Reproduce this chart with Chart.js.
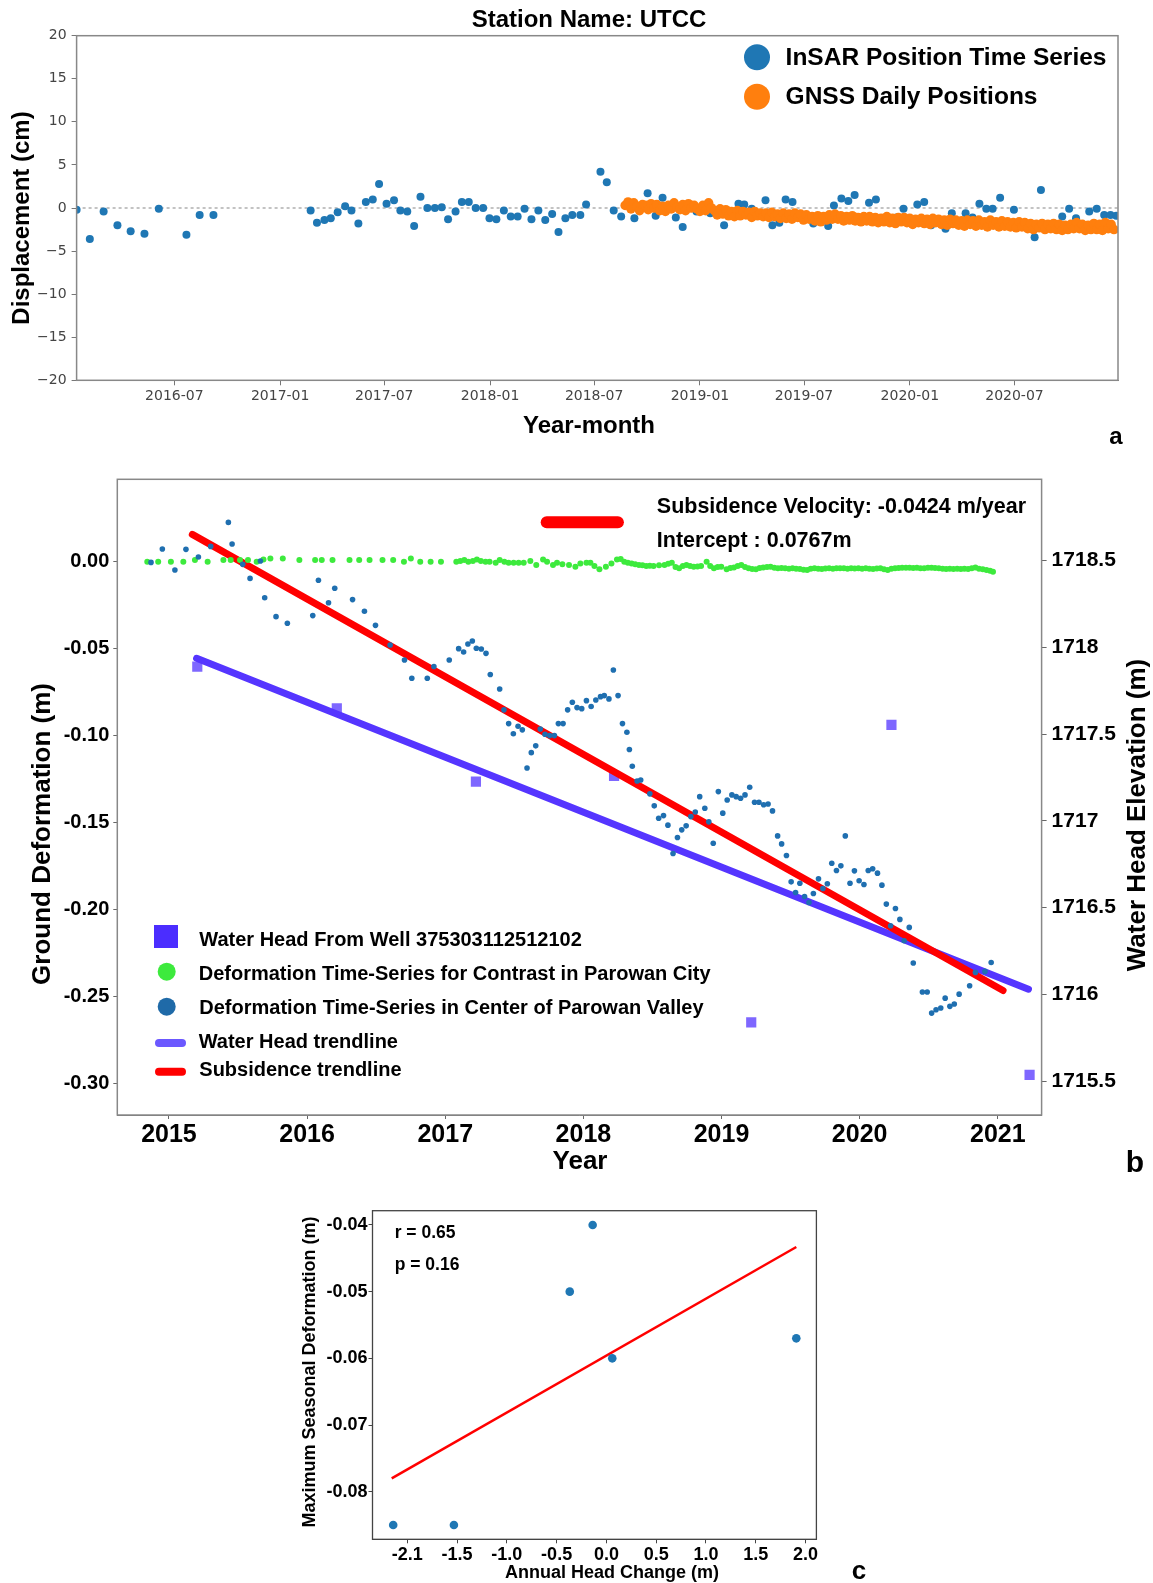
<!DOCTYPE html>
<html><head><meta charset="utf-8">
<script src="https://cdn.jsdelivr.net/npm/chart.js@4.4.1/dist/chart.umd.min.js"></script>
<style>
html,body{margin:0;padding:0;background:#fff;}
body{width:1153px;height:1583px;position:relative;overflow:hidden;}
.wrap{position:absolute;left:0;width:1153px;}
canvas{display:block;}
</style></head><body>
<div class="wrap" style="top:0;height:445px"><canvas id="ca"></canvas></div>
<div class="wrap" style="top:445px;height:735px"><canvas id="cb"></canvas></div>
<div class="wrap" style="top:1180px;height:403px"><canvas id="cc"></canvas></div>
<script>
// ---------------- Panel a data ----------------
const aXMin = '2016-01-13';
const aXMax = '2020-12-28';
const aTickDates = ['2016-07-01','2017-01-01','2017-07-01','2018-01-01','2018-07-01','2019-01-01','2019-07-01','2020-01-01','2020-07-01'];
const aYTicks = [-20,-15,-10,-5,0,5,10,15,20];
const insarDates = ['2016-01-13','2016-02-05','2016-02-29','2016-03-24','2016-04-16','2016-05-10','2016-06-04','2016-07-22','2016-08-14','2016-09-07',
 '2017-02-23','2017-03-06','2017-03-19','2017-03-30','2017-04-11','2017-04-24','2017-05-05','2017-05-17','2017-05-30','2017-06-11','2017-06-22',
 '2017-07-05','2017-07-18','2017-07-29','2017-08-10','2017-08-22','2017-09-02','2017-09-14','2017-09-27','2017-10-09','2017-10-20','2017-11-02',
 '2017-11-13','2017-11-25','2017-12-07','2017-12-20','2017-12-31','2018-01-12','2018-01-25','2018-02-06','2018-02-18','2018-03-02','2018-03-14',
 '2018-03-26','2018-04-07','2018-04-19','2018-04-30','2018-05-12','2018-05-24','2018-06-07','2018-06-17','2018-07-12','2018-07-23','2018-08-04',
 '2018-08-17','2018-09-09','2018-10-02','2018-10-28','2018-11-20','2018-12-02','2019-02-12','2019-03-09','2019-03-19','2019-04-25','2019-05-07',
 '2019-05-19','2019-05-30','2019-06-11','2019-07-17','2019-08-12','2019-08-22','2019-09-04','2019-09-16','2019-09-27','2019-10-22','2019-11-03',
 '2019-12-21','2020-01-14','2020-01-26','2020-02-07','2020-03-03','2020-03-14','2020-04-07','2020-05-01','2020-05-13','2020-05-24','2020-06-06',
 '2020-06-30','2020-08-05','2020-08-16','2020-09-22','2020-10-04','2020-10-16','2020-11-08','2020-11-21','2020-12-04','2020-12-15','2020-12-25',
 '2018-10-16','2018-12-26','2019-01-19','2019-04-01','2019-06-23','2019-12-09','2020-02-19','2020-04-19','2020-07-12','2020-09-03'];
const insarCm = [-0.2,-3.6,-0.4,-2.0,-2.7,-3.0,-0.1,-3.1,-0.8,-0.8,
 -0.3,-1.7,-1.4,-1.2,-0.5,0.2,-0.3,-1.8,0.7,1.0,2.8,
 0.5,0.9,-0.3,-0.4,-2.1,1.3,0.0,0.0,0.1,-1.3,-0.4,
 0.7,0.7,0.0,0.0,-1.2,-1.3,-0.3,-1.0,-1.0,-0.1,-1.3,
 -0.3,-1.4,-0.7,-2.8,-1.2,-0.8,-0.8,0.4,4.2,3.0,-0.3,
 -1.0,-1.2,1.7,1.2,-1.1,-2.2,-2.0,0.5,0.4,0.9,-2.0,
 -1.7,1.0,0.7,-1.8,-2.1,0.3,1.1,0.8,1.5,0.6,1.0,
 -0.1,0.4,0.7,-2.0,-2.4,-0.6,-0.6,0.5,-0.1,-0.1,1.2,
 -0.2,-3.4,2.1,-1.0,-0.1,-1.2,-0.4,-0.1,-0.8,-0.8,-0.9,
 -0.9,-0.4,-0.6,-0.1,-1.1,-1.1,-1.4,-1.1,-1.7,-1.9];
const gnssStart = '2018-08-24';
const gnssStepDays = 5;
const gnssCm = [0.3,0.7,-0.1,0.6,0.2,-0.3,0.4,
 0.3,-0.2,0.5,0.0,0.4,-0.3,
 0.2,-0.4,0.3,-0.1,0.6,0.1,
 -0.2,0.4,-0.3,0.5,0.0,0.3,
 -0.1,-0.4,0.3,-0.3,0.6,0.0,
 -0.3,-0.8,-0.1,-0.7,-0.2,-0.9,
 -0.4,-1.0,-0.3,-0.9,-0.4,-0.8,
 -0.5,-1.1,-0.4,-0.9,-0.6,-1.0,
 -0.6,-1.1,-0.5,-1.0,-0.7,-1.2,
 -0.6,-1.2,-0.7,-1.3,-0.6,-1.1,
 -0.7,-1.4,-0.8,-1.3,-1.0,-1.5,
 -0.9,-1.6,-1.0,-1.4,-0.8,-1.3,
 -0.7,-1.3,-0.9,-1.5,-1.0,-1.4,
 -0.9,-1.5,-1.1,-1.6,-1.0,-1.5,
 -1.0,-1.6,-1.1,-1.7,-1.2,-1.6,
 -1.0,-1.7,-1.2,-1.8,-1.1,-1.6,
 -1.1,-1.7,-1.2,-1.9,-1.3,-1.7,
 -1.2,-1.8,-1.3,-1.9,-1.2,-1.7,
 -1.3,-1.9,-1.4,-2.0,-1.3,-1.8,
 -1.4,-2.0,-1.5,-2.1,-1.4,-1.9,
 -1.5,-2.1,-1.4,-2.0,-1.6,-2.2,
 -1.4,-2.0,-1.6,-2.2,-1.5,-2.1,
 -1.6,-2.2,-1.7,-2.3,-1.6,-2.2,
 -1.7,-2.4,-1.8,-2.5,-1.9,-2.3,
 -1.8,-2.5,-1.9,-2.4,-1.8,-2.5,
 -1.9,-2.6,-2.0,-2.5,-1.9,-2.4,
 -1.7,-2.4,-1.9,-2.6,-2.0,-2.5,
 -1.8,-2.5,-1.9,-2.6,-1.7,-2.4,-1.9,-2.5];

// ---------------- Panel b data ----------------
const bXMin = 2014.626, bXMax = 2021.317;
const bYMin = -0.3182, bYMax = 0.0474;
const bY2Min = 1715.304, bY2Max = 1718.969;
const bXTicks = [2015,2016,2017,2018,2019,2020,2021];
const bYTicks = [-0.30,-0.25,-0.20,-0.15,-0.10,-0.05,0.00];
const bY2Ticks = [1715.5,1716,1716.5,1717,1717.5,1718,1718.5];
const centerYears = [2014.870,2014.952,2015.043,2015.123,2015.213,2015.302,2015.430,2015.457,2015.534,2015.587,2015.662,2015.693,2015.775,2015.857,
 2016.041,2016.082,2016.155,2016.200,2016.329,2016.415,2016.495,2016.601,2016.705,2016.758,2016.870,2016.918,
 2017.029,2017.097,2017.133,2017.164,2017.196,2017.225,2017.261,2017.295,2017.326,2017.394,2017.425,2017.459,2017.493,2017.527,2017.558,
 2017.592,2017.623,2017.655,2017.688,2017.722,2017.756,2017.790,2017.819,2017.853,2017.886,2017.920,2017.954,2017.988,
 2018.022,2018.056,2018.090,2018.124,2018.151,2018.185,2018.217,2018.251,2018.283,2018.315,2018.333,2018.354,2018.389,2018.415,2018.481,
 2018.513,2018.545,2018.580,2018.612,2018.649,2018.681,2018.712,2018.744,2018.778,2018.810,2018.842,2018.879,2018.908,2018.940,2018.977,
 2019.009,2019.041,2019.075,2019.106,2019.138,2019.170,2019.204,2019.239,2019.271,2019.305,2019.337,2019.369,2019.406,2019.435,2019.470,
 2019.504,2019.536,2019.567,2019.601,2019.633,2019.665,2019.702,2019.734,2019.766,2019.798,2019.832,2019.864,2019.896,2019.930,2019.962,
 2019.996,2020.031,2020.062,2020.094,2020.129,2020.161,2020.193,2020.224,2020.259,2020.291,2020.322,2020.359,2020.388,2020.454,2020.489,
 2020.521,2020.553,2020.587,2020.619,2020.653,2020.685,2020.720,2020.796,2020.838,2020.907,2020.952];
const centerDef = [-0.0004,0.0073,-0.0048,0.0071,0.0027,0.0088,0.0226,0.0102,-0.0015,-0.0096,0.0004,-0.0207,-0.0316,-0.0354,
 -0.0310,-0.0107,-0.0236,-0.0153,-0.0218,-0.0285,-0.0366,-0.0479,-0.0565,-0.0670,-0.0670,-0.0603,
 -0.0565,-0.0500,-0.0519,-0.0473,-0.0456,-0.0498,-0.0502,-0.0527,-0.0649,-0.0732,-0.0852,-0.0931,-0.0989,-0.0946,-0.0967,
 -0.1186,-0.1098,-0.1059,-0.0962,-0.0992,-0.1000,-0.1000,-0.0931,-0.0931,-0.0852,-0.0808,-0.0839,-0.0845,
 -0.0799,-0.0833,-0.0795,-0.0776,-0.0770,-0.0789,-0.0623,-0.0770,-0.0931,-0.0981,-0.1080,-0.1176,-0.1261,-0.1255,-0.1335,
 -0.1404,-0.1475,-0.1460,-0.1515,-0.1678,-0.1586,-0.1542,-0.1519,-0.1466,-0.1439,-0.1351,-0.1418,-0.1496,-0.1619,-0.1322,
 -0.1446,-0.1370,-0.1341,-0.1351,-0.1360,-0.1341,-0.1297,-0.1383,-0.1383,-0.1398,-0.1393,-0.1433,-0.1577,-0.1623,-0.1690,
 -0.1841,-0.1902,-0.1849,-0.1925,-0.1960,-0.1908,-0.1824,-0.1879,-0.1852,-0.1734,-0.1776,-0.1749,-0.1577,-0.1849,-0.1778,
 -0.1835,-0.1856,-0.1776,-0.1766,-0.1791,-0.1860,-0.1969,-0.2094,-0.1994,-0.2057,-0.2180,-0.2103,-0.2308,-0.2475,-0.2475,
 -0.2596,-0.2577,-0.2567,-0.2510,-0.2557,-0.2544,-0.2487,-0.2439,-0.2362,-0.2356,-0.2305];
const cityYears = [2014.843,2014.922,2015.014,2015.104,2015.188,2015.280,2015.394,2015.447,2015.514,2015.572,2015.635,2015.684,2015.734,2015.824,2015.944,
 2016.058,2016.106,2016.184,2016.307,2016.377,2016.452,2016.546,2016.623,2016.701,2016.751,2016.819,2016.894,2016.969,
 2017.080,2017.109,2017.138,2017.167,2017.200,2017.229,2017.258,2017.292,2017.321,2017.365,2017.394,2017.428,2017.459,2017.495,2017.531,2017.568,
 2017.616,2017.659,2017.708,2017.737,2017.780,2017.809,2017.848,2017.896,2017.942,2017.978,2018.022,2018.051,2018.080,2018.116,2018.163,
 2018.203,2018.243,2018.270,2018.296,2018.322,2018.349,2018.375,2018.402,2018.428,2018.455,2018.481,2018.508,2018.548,2018.587,2018.614,2018.640,
 2018.667,2018.693,2018.720,2018.746,2018.772,2018.799,2018.826,2018.852,2018.892,2018.918,2018.945,2018.972,2018.998,2019.037,2019.064,2019.090,
 2019.117,2019.143,2019.170,2019.196,2019.222,2019.249,2019.276,2019.302,2019.329,2019.355,2019.382,2019.408,2019.434,2019.461,2019.488,2019.514,
 2019.540,2019.567,2019.594,2019.620,2019.646,2019.673,2019.700,2019.726,2019.752,2019.779,2019.806,2019.832,2019.858,2019.885,2019.912,2019.938,
 2019.964,2019.991,2020.018,2020.044,2020.070,2020.097,2020.124,2020.150,2020.176,2020.203,2020.230,2020.256,2020.282,2020.308,2020.335,2020.361,
 2020.388,2020.414,2020.440,2020.467,2020.494,2020.520,2020.546,2020.573,2020.600,2020.626,2020.652,2020.679,2020.706,2020.732,2020.758,2020.785,
 2020.812,2020.838,2020.864,2020.891,2020.918,2020.944,2020.965];
const cityDef = [0.0000,0.0000,0.0000,0.0000,0.0010,0.0000,0.0010,0.0010,0.0010,0.0010,0.0000,0.0013,0.0019,0.0019,0.0010,
 0.0010,0.0010,0.0010,0.0010,0.0010,0.0010,0.0010,0.0010,0.0000,0.0019,0.0000,0.0000,0.0000,
 0.0000,0.0004,0.0010,0.0000,0.0004,0.0013,0.0004,0.0000,0.0000,-0.0006,0.0010,0.0000,-0.0006,-0.0006,-0.0006,-0.0006,
 0.0004,-0.0019,0.0013,0.0000,-0.0019,-0.0006,-0.0015,-0.0019,-0.0029,-0.0010,-0.0006,-0.0006,-0.0025,-0.0044,-0.0029,
 -0.0010,0.0013,0.0016,0.0000,-0.0006,-0.0010,-0.0015,-0.0019,-0.0021,-0.0025,-0.0023,-0.0025,-0.0021,-0.0019,-0.0012,-0.0006,
 -0.0030,-0.0038,-0.0025,-0.0019,-0.0024,-0.0029,-0.0027,-0.0025,0.0000,-0.0025,-0.0038,-0.0031,-0.0029,-0.0044,-0.0036,-0.0033,
 -0.0025,-0.0019,-0.0030,-0.0038,-0.0042,-0.0044,-0.0036,-0.0033,-0.0031,-0.0029,-0.0034,-0.0038,-0.0036,-0.0038,-0.0040,-0.0038,
 -0.0040,-0.0042,-0.0046,-0.0048,-0.0040,-0.0038,-0.0041,-0.0042,-0.0039,-0.0038,-0.0040,-0.0038,-0.0037,-0.0038,-0.0040,-0.0038,
 -0.0039,-0.0038,-0.0040,-0.0038,-0.0040,-0.0042,-0.0039,-0.0038,-0.0043,-0.0048,-0.0040,-0.0038,-0.0036,-0.0034,-0.0035,-0.0034,
 -0.0036,-0.0034,-0.0037,-0.0038,-0.0035,-0.0034,-0.0036,-0.0038,-0.0040,-0.0042,-0.0040,-0.0042,-0.0041,-0.0042,-0.0040,-0.0042,
 -0.0038,-0.0033,-0.0040,-0.0044,-0.0048,-0.0052,-0.0057];
const wellYears = [2015.205,2016.215,2017.222,2018.222,2019.215,2020.230,2021.230];
const wellHead = [1717.889,1717.649,1717.226,1717.259,1715.838,1717.553,1715.535];
const waterTrendYears = [2015.200,2021.222];
const waterTrendHead = [1717.937,1716.029];
const subsTrendYears = [2015.169,2021.038];
const subsTrendDef = [0.0157,-0.2466];

// ---------------- Panel c data ----------------
const cXMin = -2.35, cXMax = 2.11, cYMin = -0.08714, cYMax = -0.03786;
const headChange = [-2.142,-1.532,-0.368,-0.138,0.059,1.908];
const maxSeasonalDef = [-0.085,-0.085,-0.050,-0.040,-0.060,-0.057];
const fitX = [-2.157,1.908];
const fitY = [-0.0780,-0.0433];
const cXTickValues = [-2,-1.5,-1,-0.5,0,0.5,1,1.5,2];
const cXTickLabels = ['-2.1','-1.5','-1.0','-0.5','0.0','0.5','1.0','1.5','2.0'];
const cYTicks = [-0.08,-0.07,-0.06,-0.05,-0.04];

// ---------------- helpers ----------------
const SANS = "'Liberation Sans', Arial, Helvetica, sans-serif";
const DEJ = "'DejaVu Sans', sans-serif";
function txt(ctx, s, x, y, font, o) {
  o = o || {};
  ctx.save();
  ctx.font = font; ctx.fillStyle = o.color || '#000';
  ctx.textAlign = o.align || 'left'; ctx.textBaseline = 'middle';
  ctx.translate(x, y); if (o.rot) ctx.rotate(o.rot);
  ctx.fillText(s, 0, 0); ctx.restore();
}
function frame(color, w) {
  return { id: 'frame', afterDatasetsDraw(chart) {
    const a = chart.chartArea, ctx = chart.ctx;
    ctx.save(); ctx.strokeStyle = color; ctx.lineWidth = w;
    ctx.strokeRect(a.left, a.top, a.right - a.left, a.bottom - a.top); ctx.restore();
  }};
}
function setTicks(arr) { return s => { s.ticks = arr.map(v => ({ value: v })); }; }
const pts = (xs, ys) => xs.map((x, i) => ({ x: x, y: ys[i] }));
const ms = d => Date.parse(d);
const fmtYM = v => { const d = new Date(v); return d.getUTCFullYear() + '-' + String(d.getUTCMonth() + 1).padStart(2, '0'); };
Chart.defaults.animation = false;

// ---------------- Chart a ----------------
const gnssPts = gnssCm.map((v, i) => ({ x: ms(gnssStart) + i * gnssStepDays * 86400000, y: v }));
new Chart(document.getElementById('ca'), {
  type: 'scatter',
  data: { datasets: [
    { data: gnssPts, backgroundColor: '#ff7f0e', borderColor: '#ff7f0e', pointRadius: 4.8, borderWidth: 0, order: 0, clip: 0 },
    { data: pts(insarDates.map(ms), insarCm), backgroundColor: '#1f77b4', pointRadius: 4, borderWidth: 0, order: 1, clip: 0 },
    { data: [{ x: ms(aXMin), y: 0 }, { x: ms(aXMax), y: 0 }], showLine: true, borderColor: '#b0b0b0', borderWidth: 1.5, borderDash: [3, 3], pointRadius: 0, order: 2 }
  ]},
  options: {
    responsive: true, maintainAspectRatio: false, events: [],
    layout: { padding: { top: 35.7, right: 35, left: 0, bottom: 0 } },
    plugins: { legend: { display: false }, tooltip: { enabled: false } },
    scales: {
      x: { type: 'linear', min: ms(aXMin), max: ms(aXMax), afterBuildTicks: setTicks(aTickDates.map(ms)),
        afterFit: s => { s.height = 64.7; },
        ticks: { callback: v => fmtYM(v), font: { family: DEJ, size: 14 }, color: '#444', padding: 3, autoSkip: false, maxRotation: 0 },
        grid: { display: true, drawOnChartArea: false, tickLength: 5, color: '#777' }, border: { display: true, color: '#777' } },
      y: { min: -20, max: 20, afterBuildTicks: setTicks(aYTicks), afterFit: s => { s.width = 76.6; },
        ticks: { callback: v => v < 0 ? '\u2212' + Math.abs(v) : String(v), font: { family: DEJ, size: 14 }, color: '#444', padding: 5 },
        grid: { display: true, drawOnChartArea: false, tickLength: 5, color: '#777' }, border: { display: true, color: '#777' } }
    }
  },
  plugins: [frame('#888', 1.5), { id: 'txtA', afterDraw(chart) {
    const ctx = chart.ctx;
    txt(ctx, 'Station Name: UTCC', 589, 20, 'bold 24px ' + SANS, { align: 'center' });
    txt(ctx, 'Displacement (cm)', 22, 218, 'bold 24px ' + SANS, { align: 'center', rot: -Math.PI / 2 });
    txt(ctx, 'Year-month', 589, 426, 'bold 24px ' + SANS, { align: 'center' });
    txt(ctx, 'a', 1116, 437, 'bold 24px ' + SANS, { align: 'center' });
    ctx.save();
    ctx.fillStyle = '#1f77b4'; ctx.beginPath(); ctx.arc(757, 57.3, 13, 0, Math.PI * 2); ctx.fill();
    ctx.fillStyle = '#ff7f0e'; ctx.beginPath(); ctx.arc(757, 96.7, 13, 0, Math.PI * 2); ctx.fill();
    ctx.restore();
    txt(ctx, 'InSAR Position Time Series', 785.6, 58, 'bold 24.5px ' + SANS);
    txt(ctx, 'GNSS Daily Positions', 785.6, 97, 'bold 24.5px ' + SANS);
  }}]
});

// ---------------- Chart b ----------------
new Chart(document.getElementById('cb'), {
  type: 'scatter',
  data: { datasets: [
    { data: pts(centerYears, centerDef), backgroundColor: '#1f6fb0', pointRadius: 2.8, borderWidth: 0, yAxisID: 'y', order: 0 },
    { data: pts(cityYears, cityDef), backgroundColor: '#3dea3d', pointRadius: 3, borderWidth: 0, yAxisID: 'y', order: 1 },
    { data: pts(subsTrendYears, subsTrendDef), showLine: true, borderColor: '#ff0000', borderWidth: 7, borderCapStyle: 'round', pointRadius: 0, yAxisID: 'y', order: 2 },
    { data: pts(waterTrendYears, waterTrendHead), showLine: true, borderColor: '#5535ff', borderWidth: 7, borderCapStyle: 'round', pointRadius: 0, yAxisID: 'y2', order: 3 },
    { data: pts(wellYears, wellHead), backgroundColor: 'rgba(112,86,255,0.9)', pointStyle: 'rect', pointRadius: 7.2, borderWidth: 0, yAxisID: 'y2', order: 4 }
  ]},
  options: {
    responsive: true, maintainAspectRatio: false, events: [],
    layout: { padding: { top: 34.3, right: 0, left: 0, bottom: 0 } },
    plugins: { legend: { display: false }, tooltip: { enabled: false } },
    scales: {
      x: { type: 'linear', min: bXMin, max: bXMax, afterBuildTicks: setTicks(bXTicks), afterFit: s => { s.height = 65; },
        ticks: { callback: v => String(v), font: { family: SANS, size: 25, weight: 'bold' }, color: '#000', padding: 1, autoSkip: false, maxRotation: 0 },
        grid: { display: true, drawOnChartArea: false, tickLength: 4, color: '#666' }, border: { display: true, color: '#777' } },
      y: { position: 'left', min: bYMin, max: bYMax, afterBuildTicks: setTicks(bYTicks), afterFit: s => { s.width = 117.3; },
        ticks: { callback: v => v.toFixed(2), font: { family: SANS, size: 20, weight: 'bold' }, color: '#000', padding: 4 },
        grid: { display: true, drawOnChartArea: false, tickLength: 4, color: '#666' }, border: { display: true, color: '#777' } },
      y2: { position: 'right', min: bY2Min, max: bY2Max, afterBuildTicks: setTicks(bY2Ticks), afterFit: s => { s.width = 111.4; },
        ticks: { callback: v => Number.isInteger(v) ? String(v) : v.toFixed(1), font: { family: SANS, size: 21, weight: 'bold' }, color: '#000', padding: 5 },
        grid: { display: true, drawOnChartArea: false, tickLength: 5, color: '#666' }, border: { display: true, color: '#777' } }
    }
  },
  plugins: [frame('#888', 1.5), { id: 'txtB', afterDraw(chart) {
    const ctx = chart.ctx;
    txt(ctx, 'Ground Deformation (m)', 43, 389, 'bold 26px ' + SANS, { align: 'center', rot: -Math.PI / 2 });
    txt(ctx, 'Water Head Elevation (m)', 1138, 370, 'bold 26px ' + SANS, { align: 'center', rot: -Math.PI / 2 });
    txt(ctx, 'Year', 580, 717, 'bold 26px ' + SANS, { align: 'center' });
    txt(ctx, 'b', 1135, 719, 'bold 30px ' + SANS, { align: 'center' });
    txt(ctx, 'Subsidence Velocity: -0.0424 m/year', 656.8, 61.7, 'bold 21.5px ' + SANS);
    txt(ctx, 'Intercept : 0.0767m', 656.8, 95.7, 'bold 21.5px ' + SANS);
    ctx.save(); ctx.lineCap = 'round';
    ctx.strokeStyle = '#ff0000'; ctx.lineWidth = 12;
    ctx.beginPath(); ctx.moveTo(546.7, 77.3); ctx.lineTo(617.9, 77.3); ctx.stroke();
    ctx.fillStyle = '#4b2dff'; ctx.fillRect(154, 480, 24, 23);
    ctx.fillStyle = '#3dea3d'; ctx.beginPath(); ctx.arc(166.7, 526.7, 9, 0, Math.PI * 2); ctx.fill();
    ctx.fillStyle = '#1f6aa8'; ctx.beginPath(); ctx.arc(166.7, 561.7, 9, 0, Math.PI * 2); ctx.fill();
    ctx.lineWidth = 8;
    ctx.strokeStyle = '#6b58ff'; ctx.beginPath(); ctx.moveTo(159, 598); ctx.lineTo(182, 598); ctx.stroke();
    ctx.strokeStyle = '#ff0000'; ctx.beginPath(); ctx.moveTo(159, 626.7); ctx.lineTo(182, 626.7); ctx.stroke();
    ctx.restore();
    const f = 'bold 20px ' + SANS;
    txt(ctx, 'Water Head From Well 375303112512102', 199.3, 495, f);
    txt(ctx, 'Deformation Time-Series for Contrast in Parowan City', 198.7, 529, f);
    txt(ctx, 'Deformation Time-Series in Center of Parowan Valley', 199.3, 563, f);
    txt(ctx, 'Water Head trendline', 198.7, 597, f);
    txt(ctx, 'Subsidence trendline', 199.3, 625.7, f);
  }}]
});

// ---------------- Chart c ----------------
new Chart(document.getElementById('cc'), {
  type: 'scatter',
  data: { datasets: [
    { data: pts(headChange, maxSeasonalDef), backgroundColor: '#1f77b4', pointRadius: 4.3, borderWidth: 0, order: 0 },
    { data: pts(fitX, fitY), showLine: true, borderColor: '#ff0000', borderWidth: 2.5, pointRadius: 0, order: 1 }
  ]},
  options: {
    responsive: true, maintainAspectRatio: false, events: [],
    layout: { padding: { top: 30.7, right: 336.6, left: 0, bottom: 0 } },
    plugins: { legend: { display: false }, tooltip: { enabled: false } },
    scales: {
      x: { type: 'linear', min: cXMin, max: cXMax, afterBuildTicks: setTicks(cXTickValues), afterFit: s => { s.height = 43.7; },
        ticks: { callback: v => cXTickLabels[cXTickValues.indexOf(v)], font: { family: SANS, size: 18, weight: 'bold' }, color: '#000', padding: 1, autoSkip: false, maxRotation: 0 },
        grid: { display: true, drawOnChartArea: false, tickLength: 4, color: '#444' }, border: { display: true, color: '#444' } },
      y: { min: cYMin, max: cYMax, afterBuildTicks: setTicks(cYTicks), afterFit: s => { s.width = 372.5; },
        ticks: { callback: v => v.toFixed(2), font: { family: SANS, size: 18, weight: 'bold' }, color: '#000', padding: 1 },
        grid: { display: true, drawOnChartArea: false, tickLength: 4, color: '#444' }, border: { display: true, color: '#444' } }
    }
  },
  plugins: [frame('#444', 1.3), { id: 'txtC', afterDraw(chart) {
    const ctx = chart.ctx;
    txt(ctx, 'r = 0.65', 394.7, 53.3, 'bold 17.5px ' + SANS);
    txt(ctx, 'p = 0.16', 394.7, 85, 'bold 17.5px ' + SANS);
    txt(ctx, 'Maximum Seasonal Deformation (m)', 310.3, 192, 'bold 18px ' + SANS, { align: 'center', rot: -Math.PI / 2 });
    txt(ctx, 'Annual Head Change (m)', 612, 393, 'bold 18px ' + SANS, { align: 'center' });
    txt(ctx, 'c', 859, 392, 'bold 26px ' + SANS, { align: 'center' });
  }}]
});
</script></body></html>
